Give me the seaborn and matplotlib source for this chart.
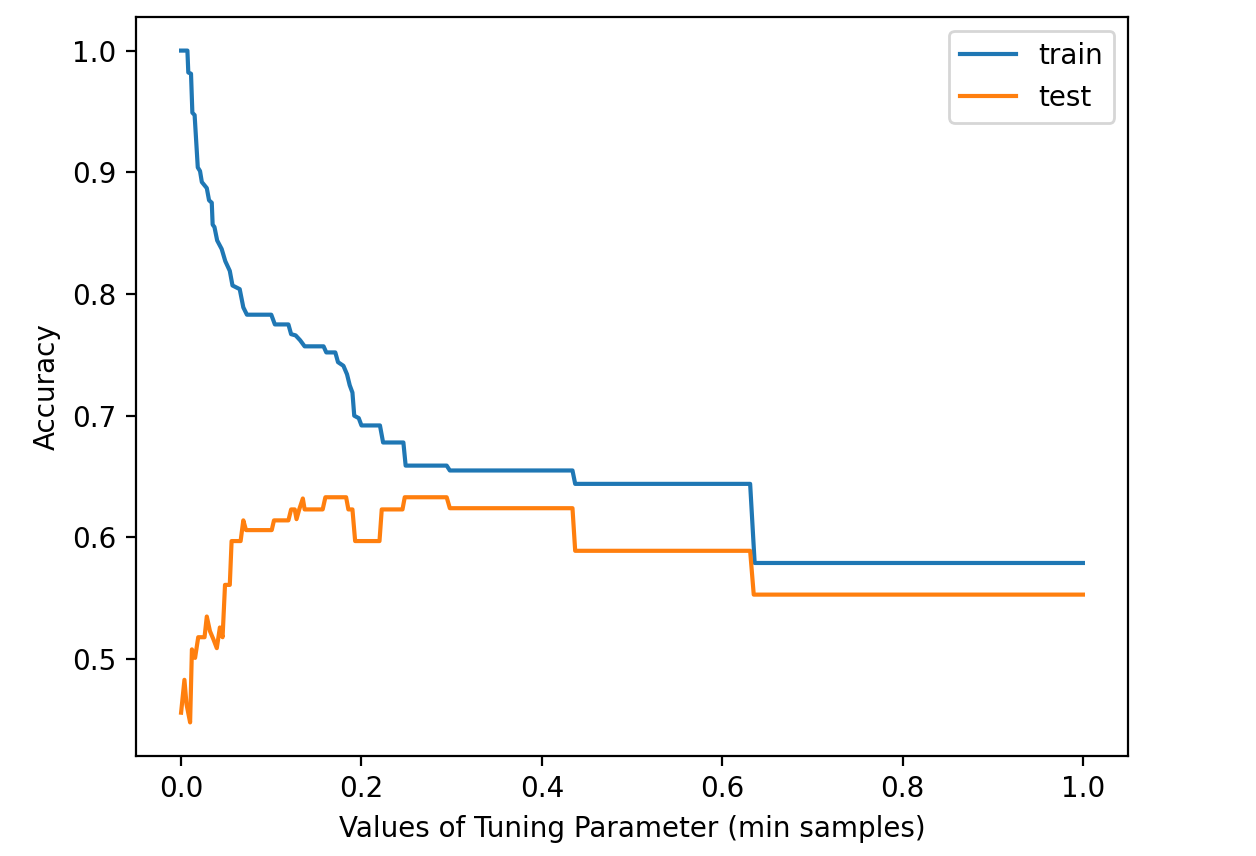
import matplotlib
matplotlib.use("Agg")
import matplotlib.pyplot as plt
import seaborn as sns

train_x = [0.000, 0.007, 0.008, 0.011, 0.0125, 0.015, 0.0185, 0.021, 0.023, 0.0285,
           0.031, 0.034, 0.035, 0.037, 0.040, 0.045, 0.049, 0.054, 0.057, 0.065,
           0.069, 0.073, 0.100, 0.104, 0.119, 0.122, 0.127, 0.132, 0.137, 0.158,
           0.161, 0.171, 0.174, 0.180, 0.184, 0.187, 0.190, 0.192, 0.197, 0.200,
           0.2205, 0.224, 0.2465, 0.249, 0.2945, 0.298, 0.434, 0.437, 0.631, 0.636,
           1.000]
train_y = [1.000, 1.000, 0.982, 0.981, 0.949, 0.947, 0.904, 0.901, 0.892, 0.887,
           0.877, 0.875, 0.857, 0.855, 0.844, 0.837, 0.827, 0.819, 0.807, 0.804,
           0.789, 0.783, 0.783, 0.775, 0.775, 0.767, 0.766, 0.762, 0.757, 0.757,
           0.752, 0.752, 0.744, 0.741, 0.734, 0.725, 0.719, 0.700, 0.698, 0.692,
           0.692, 0.678, 0.678, 0.659, 0.659, 0.655, 0.655, 0.644, 0.644, 0.579,
           0.579]

test_x = [0.000, 0.0037, 0.006, 0.010, 0.012, 0.0155, 0.019, 0.026, 0.0285, 0.032,
          0.036, 0.0396, 0.043, 0.046, 0.0487, 0.054, 0.056, 0.066, 0.069, 0.072,
          0.1005, 0.103, 0.119, 0.122, 0.126, 0.128, 0.131, 0.135, 0.137, 0.157,
          0.160, 0.183, 0.1855, 0.190, 0.193, 0.220, 0.2225, 0.2455, 0.248, 0.2945,
          0.298, 0.434, 0.437, 0.631, 0.635, 1.000]
test_y = [0.456, 0.483, 0.463, 0.448, 0.508, 0.501, 0.518, 0.518, 0.535, 0.523,
          0.516, 0.509, 0.526, 0.518, 0.561, 0.561, 0.597, 0.597, 0.614, 0.606,
          0.606, 0.614, 0.614, 0.623, 0.623, 0.615, 0.623, 0.632, 0.623, 0.623,
          0.633, 0.633, 0.623, 0.623, 0.597, 0.597, 0.623, 0.623, 0.633, 0.633,
          0.624, 0.624, 0.589, 0.589, 0.553, 0.553]

series_names = ["train", "test"]

fig = plt.figure(figsize=(6.28, 4.28), dpi=200)
ax = fig.add_axes([136 / 1256, 100 / 856, (1128 - 136) / 1256, (756 - 17) / 856])

sns.lineplot(x=train_x, y=train_y, ax=ax, label=series_names[0], color="#1f77b4",
             estimator=None, sort=False)
sns.lineplot(x=test_x, y=test_y, ax=ax, label=series_names[1], color="#ff7f0e",
             estimator=None, sort=False)

ax.set_xlabel("Values of Tuning Parameter (min samples)")
ax.set_ylabel("Accuracy")
ax.legend(loc="upper right")

fig.savefig("out.png", dpi=200)
